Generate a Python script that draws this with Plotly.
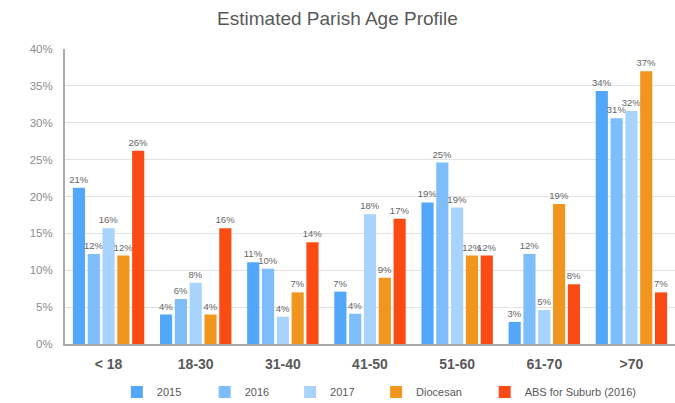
import plotly.graph_objects as go

categories = ["< 18", "18-30", "31-40", "41-50", "51-60", "61-70", ">70"]
series_names = ["2015", "2016", "2017", "Diocesan", "ABS for Suburb (2016)"]
v2015 = [0.212, 0.040, 0.111, 0.071, 0.192, 0.030, 0.343]
v2016 = [0.122, 0.061, 0.102, 0.041, 0.246, 0.122, 0.306]
v2017 = [0.157, 0.083, 0.037, 0.176, 0.185, 0.046, 0.316]
vdio = [0.120, 0.040, 0.070, 0.090, 0.120, 0.190, 0.370]
vabs = [0.262, 0.157, 0.138, 0.170, 0.120, 0.081, 0.070]
colors = ["#52a7fa", "#7dbdfa", "#a8d3fc", "#f0961e", "#fa4b14"]
y_ticks = [0, 0.05, 0.10, 0.15, 0.20, 0.25, 0.30, 0.35, 0.40]
legend_x = [0.085, 0.229, 0.369, 0.510, 0.688]

fig = go.Figure()
legend_ids = ["legend", "legend2", "legend3", "legend4", "legend5"]
for name, vals, col, lid in zip(series_names, [v2015, v2016, v2017, vdio, vabs], colors, legend_ids):
    fig.add_trace(go.Bar(
        name=name, x=categories, y=vals, legend=lid,
        marker=dict(color=col, line=dict(width=0)),
        texttemplate="%{y:.0%}", textposition="outside",
        textangle=0, constraintext="none", cliponaxis=False,
        textfont=dict(size=9.5, color="#666666"),
    ))

legend_common = dict(orientation="h", xanchor="left", y=-0.163, yanchor="middle",
                     font=dict(size=11, color="#595959"), itemwidth=30,
                     bgcolor="rgba(0,0,0,0)")
layout_legends = {}
for lid, lx in zip(legend_ids, legend_x):
    layout_legends[lid] = dict(legend_common, x=lx)

fig.update_layout(
    width=675, height=403,
    margin=dict(l=65, r=0, t=49, b=59, autoexpand=False),
    paper_bgcolor="white", plot_bgcolor="white",
    font=dict(family="Liberation Sans, Arial, sans-serif", color="#595959"),
    title=dict(text="Estimated Parish Age Profile", x=0.5, xanchor="center",
               y=0.955, yanchor="middle", font=dict(size=19, color="#595959")),
    barmode="group", bargap=0.15, bargroupgap=0.18,
    showlegend=True,
    xaxis=dict(showline=True, linecolor="#aaaaaa", linewidth=2, ticks="",
               tickfont=dict(size=14, color="#595959", family="Liberation Sans, Arial"),
               tickprefix="<b>", ticksuffix="</b>", ticklabelstandoff=6,
               automargin=False),
    yaxis=dict(range=[0, 0.40], tickvals=y_ticks, tickformat=".0%",
               showline=True, linecolor="#aaaaaa", linewidth=2,
               showgrid=True, gridcolor="#e3e3e3", gridwidth=1,
               tickfont=dict(size=11.5, color="#8c8c8c"), ticks="", ticklen=0,
               ticklabelstandoff=8, zeroline=False, automargin=False),
    **layout_legends,
)
fig.write_html("out.html", config={"displayModeBar": False},
               post_script="document.body.style.margin='0';")
